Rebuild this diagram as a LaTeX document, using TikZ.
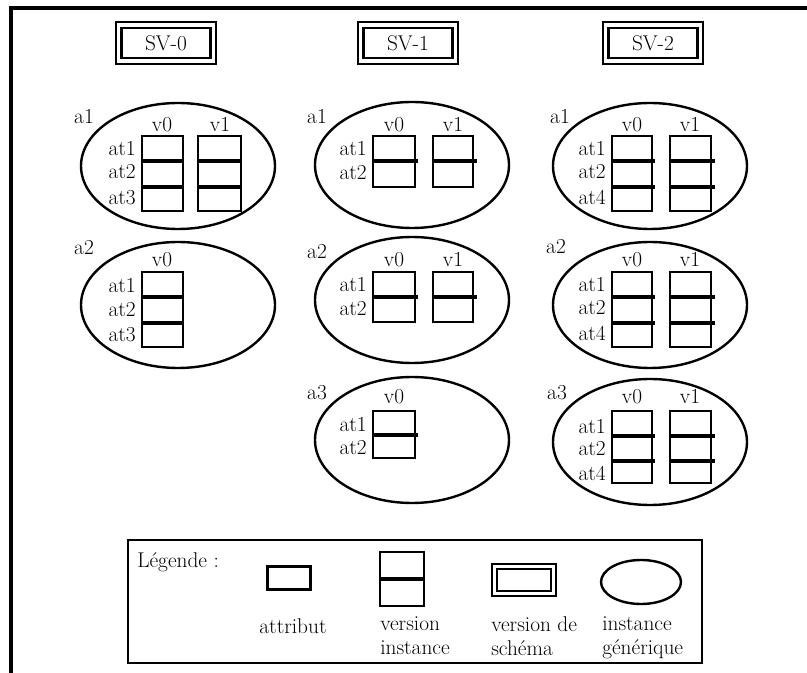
\documentclass[tikz,border=0pt]{standalone}
\usepackage{tikz}
\usetikzlibrary{shapes.geometric}

\tikzset{
  cadre/.style={line width=2.6pt},
  lbl/.style={inner sep=0pt, font=\fontsize{16}{19}\selectfont},
  leglbl/.style={inner sep=0pt, font=\fontsize{16}{18.5}\selectfont, align=left},
  svbox/.style={draw, double, line width=1.6pt, double distance=2.6pt, inner sep=0pt,
    minimum width=71pt, minimum height=27pt, font=\fontsize{16}{19}\selectfont},
  legsv/.style={draw, double, line width=1.3pt, double distance=2.6pt, inner sep=0pt,
    minimum width=44pt, minimum height=20pt},
  geninst/.style={draw, ellipse, line width=1.8pt, inner sep=0pt,
    minimum width=145.5pt, minimum height=94.5pt},
  verbox/.style={line width=2pt},
  attsep/.style={line width=2.6pt},
}

\begin{document}
\begin{tikzpicture}[x=0.75pt,y=-0.75pt]
  \useasboundingbox (0,0) rectangle (807,673);
  \draw[cadre] (11,673) -- (11,8) -- (807,8);

  % versions de schema
  \node[svbox] (sv0) at (166,43) {SV-0};
  \node[svbox] (sv1) at (408,43) {SV-1};
  \node[svbox] (sv2) at (653,43) {SV-2};

  % SV-0
  \node[geninst] (s0a1) at (178,166) {};
  \node[lbl] (s0a1n) at (84,117) {a1};
  \node[lbl] (s0a1v0) at (162,125) {v0};
  \node[lbl] (s0a1v1) at (220,125) {v1};
  \node[lbl,anchor=east] (s0a1t1) at (136,149) {at1};
  \node[lbl,anchor=east] (s0a1t2) at (136,172) {at2};
  \node[lbl,anchor=east] (s0a1t3) at (136,198) {at3};
  \draw[verbox] (142,136) rectangle (183,211);
  \draw[verbox] (198,136) rectangle (241,211);
  \foreach \y in {161,187}
    \draw[attsep] (142,\y) -- (183,\y) (198,\y) -- (241,\y);

  \node[geninst] (s0a2) at (178,305) {};
  \node[lbl] (s0a2n) at (84,248) {a2};
  \node[lbl] (s0a2v0) at (162,260) {v0};
  \node[lbl,anchor=east] (s0a2t1) at (136,286) {at1};
  \node[lbl,anchor=east] (s0a2t2) at (136,310) {at2};
  \node[lbl,anchor=east] (s0a2t3) at (136,335) {at3};
  \draw[verbox] (142,272) rectangle (183,347);
  \foreach \y in {297,323}
    \draw[attsep] (142,\y) -- (183,\y);

  % SV-1
  \node[geninst] (s1a1) at (412,165) {};
  \node[lbl] (s1a1n) at (317,117) {a1};
  \node[lbl] (s1a1v0) at (394,125) {v0};
  \node[lbl] (s1a1v1) at (453,125) {v1};
  \node[lbl,anchor=east] (s1a1t1) at (367,149) {at1};
  \node[lbl,anchor=east] (s1a1t2) at (367,173) {at2};
  \draw[verbox] (373,136) rectangle (415,187);
  \draw[verbox] (433,136) rectangle (473,187);
  \draw[attsep] (373,161) -- (418,161) (433,161) -- (477,161);

  \node[geninst] (s1a2) at (412,300) {};
  \node[lbl] (s1a2n) at (317,252) {a2};
  \node[lbl] (s1a2v0) at (394,260) {v0};
  \node[lbl] (s1a2v1) at (453,260) {v1};
  \node[lbl,anchor=east] (s1a2t1) at (367,285) {at1};
  \node[lbl,anchor=east] (s1a2t2) at (367,309) {at2};
  \draw[verbox] (373,272) rectangle (415,322);
  \draw[verbox] (433,272) rectangle (473,322);
  \draw[attsep] (373,297) -- (418,297) (433,297) -- (477,297);

  \node[geninst] (s1a3) at (412,440) {};
  \node[lbl] (s1a3n) at (317,393) {a3};
  \node[lbl] (s1a3v0) at (394,397) {v0};
  \node[lbl,anchor=east] (s1a3t1) at (367,425) {at1};
  \node[lbl,anchor=east] (s1a3t2) at (367,448) {at2};
  \draw[verbox] (373,411) rectangle (415,458);
  \draw[attsep] (373,435) -- (418,435);

  % SV-2
  \node[geninst] (s2a1) at (650,166) {};
  \node[lbl] (s2a1n) at (560,117) {a1};
  \node[lbl] (s2a1v0) at (632,125) {v0};
  \node[lbl] (s2a1v1) at (690,125) {v1};
  \node[lbl,anchor=east] (s2a1t1) at (606,149) {at1};
  \node[lbl,anchor=east] (s2a1t2) at (606,172) {at2};
  \node[lbl,anchor=east] (s2a1t4) at (606,197) {at4};
  \draw[verbox] (612,136) rectangle (652,211);
  \draw[verbox] (670,136) rectangle (711,211);
  \foreach \y in {161,187}
    \draw[attsep] (612,\y) -- (655,\y) (670,\y) -- (715,\y);

  \node[geninst] (s2a2) at (650,305) {};
  \node[lbl] (s2a2n) at (556,247) {a2};
  \node[lbl] (s2a2v0) at (632,260) {v0};
  \node[lbl] (s2a2v1) at (690,260) {v1};
  \node[lbl,anchor=east] (s2a2t1) at (606,285) {at1};
  \node[lbl,anchor=east] (s2a2t2) at (606,308) {at2};
  \node[lbl,anchor=east] (s2a2t4) at (606,333) {at4};
  \draw[verbox] (612,272) rectangle (652,347);
  \draw[verbox] (670,272) rectangle (711,347);
  \foreach \y in {297,323}
    \draw[attsep] (612,\y) -- (655,\y) (670,\y) -- (715,\y);

  \node[geninst] (s2a3) at (650,442) {};
  \node[lbl] (s2a3n) at (557,393) {a3};
  \node[lbl] (s2a3v0) at (632,397) {v0};
  \node[lbl] (s2a3v1) at (690,397) {v1};
  \node[lbl,anchor=east] (s2a3t1) at (606,427) {at1};
  \node[lbl,anchor=east] (s2a3t2) at (606,449) {at2};
  \node[lbl,anchor=east] (s2a3t4) at (606,473) {at4};
  \draw[verbox] (612,411) rectangle (652,483);
  \draw[verbox] (670,411) rectangle (711,483);
  \foreach \y in {436,461}
    \draw[attsep] (612,\y) -- (655,\y) (670,\y) -- (715,\y);

  % legende
  \draw[line width=2.2pt] (128,540) rectangle (702,663);
  \node[leglbl,anchor=west] (leg) at (137,562) {Légende :};
  \node[draw,verbox,inner sep=0pt,minimum width=32.2pt,minimum height=17.2pt] (legatt) at (289,578) {};
  \draw[verbox] (380,552) rectangle (424,606);
  \draw[attsep] (380,579) -- (424,579);
  \node[legsv] (legsch) at (524,580) {};
  \node[geninst,minimum width=60pt,minimum height=33pt] (leggen) at (641,582) {};
  \node[leglbl] (legatttxt) at (293,626) {attribut};
  \node[leglbl,anchor=north west] (legvitxt) at (380,616) {version\\instance};
  \node[leglbl,anchor=north west] (legschtxt) at (491,616) {version de\\schéma};
  \node[leglbl,anchor=north west] (leggentxt) at (602,616) {instance\\générique};
\end{tikzpicture}
\end{document}
